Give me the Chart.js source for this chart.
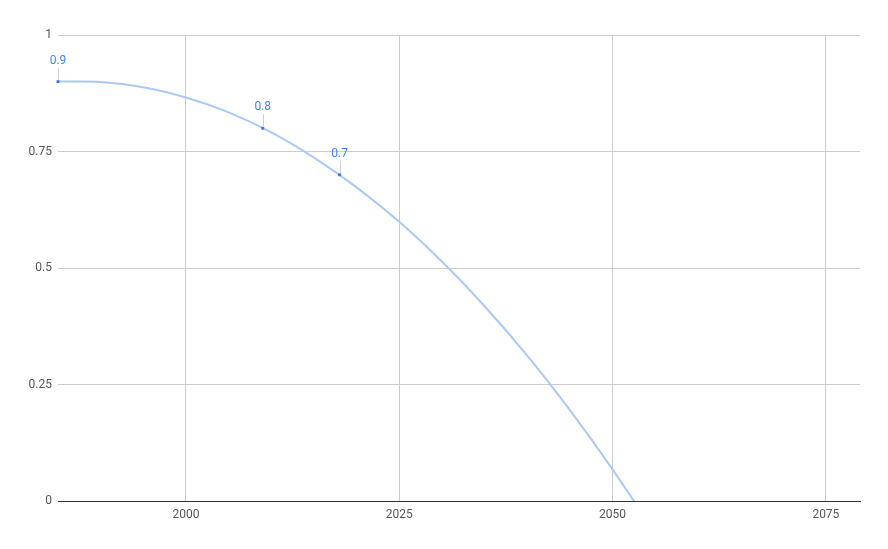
<html>
<head>
<meta charset="utf-8">
<script src="https://cdn.jsdelivr.net/npm/chart.js@4.4.0/dist/chart.umd.min.js"></script>
<style>
  html, body { margin: 0; padding: 0; background: #fff; }
  .chart-box { width: 888px; height: 549px; }
</style>
</head>
<body>
<div class="chart-box"><canvas id="trendChart"></canvas></div>
<script>
  // data points
  const pointYears = [1985, 2009, 2018];
  const pointValues = [0.9, 0.8, 0.7];

  // trendline
  const trendYears = [1985, 1990, 1995, 2000, 2005, 2010, 2015, 2020, 2025, 2030, 2035, 2040, 2045, 2050, 2055];
  const trendValues = [0.9, 0.899, 0.888, 0.866, 0.834, 0.791, 0.737, 0.673, 0.599, 0.514, 0.418, 0.312, 0.195, 0.068, -0.069];

  // axis ticks
  const xTicks = [2000, 2025, 2050, 2075];
  const yTicks = [0, 0.25, 0.5, 0.75, 1];
  const xMin = 1985, xMax = 2079;

  const labelColor = '#555';
  const blue = '#4285f4';

  // labels above points with a thin leader line
  const pointLabels = {
    id: 'pointLabels',
    afterDatasetsDraw(chart) {
      const ctx = chart.ctx;
      const meta = chart.getDatasetMeta(1);
      ctx.save();
      ctx.font = '12px Roboto';
      ctx.textAlign = 'center';
      ctx.textBaseline = 'middle';
      meta.data.forEach((pt, i) => {
        ctx.strokeStyle = '#d0d0d0';
        ctx.lineWidth = 1;
        ctx.beginPath();
        ctx.moveTo(Math.round(pt.x) + 0.5, pt.y - 14);
        ctx.lineTo(Math.round(pt.x) + 0.5, pt.y - 2);
        ctx.stroke();
        ctx.fillStyle = blue;
        ctx.fillText(String(pointValues[i]), pt.x, pt.y - 21);
      });
      ctx.restore();
    }
  };

  new Chart(document.getElementById('trendChart'), {
    type: 'scatter',
    data: {
      datasets: [
        {
          type: 'line',
          data: trendYears.map((x, i) => ({ x: x, y: trendValues[i] })),
          borderColor: '#aac8f8',
          borderWidth: 2,
          pointRadius: 0,
          tension: 0.3,
          fill: false,
          order: 2
        },
        {
          data: pointYears.map((x, i) => ({ x: x, y: pointValues[i] })),
          backgroundColor: '#3d72dc',
          borderWidth: 0,
          pointRadius: 2,
          pointStyle: 'rect',
          clip: false,
          order: 1
        }
      ]
    },
    options: {
      responsive: true,
      maintainAspectRatio: false,
      animation: false,
      layout: { padding: { top: 35, right: 28, left: 0, bottom: 0 } },
      plugins: { legend: { display: false }, tooltip: { enabled: false } },
      scales: {
        x: {
          type: 'linear',
          min: xMin,
          max: xMax,
          afterBuildTicks: (s) => { s.ticks = xTicks.map(v => ({ value: v })); },
          afterFit: (s) => { s.height = 48; },
          grid: { color: '#cccccc', drawTicks: false },
          border: { display: true, color: '#333', width: 1 },
          ticks: {
            padding: 7,
            color: labelColor,
            font: { family: 'Roboto', size: 12 },
            callback: (v) => String(v)
          }
        },
        y: {
          min: 0,
          max: 1,
          afterBuildTicks: (s) => { s.ticks = yTicks.map(v => ({ value: v })); },
          afterFit: (s) => { s.width = 58; },
          grid: {
            color: (c) => c.tick && c.tick.value === 0 ? '#333' : '#cccccc',
            drawTicks: false
          },
          border: { display: false },
          ticks: {
            padding: 6,
            color: labelColor,
            font: { family: 'Roboto', size: 12 },
            callback: (v) => String(v)
          }
        }
      }
    },
    plugins: [pointLabels]
  });
</script>
</body>
</html>
